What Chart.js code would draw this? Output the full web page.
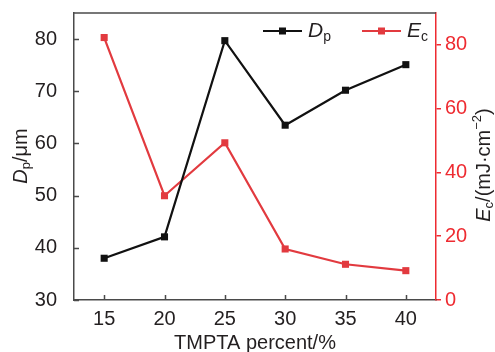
<!DOCTYPE html>
<html>
<head>
<meta charset="utf-8">
<script src="https://cdn.jsdelivr.net/npm/chart.js@4/dist/chart.umd.min.js"></script>
<style>
  html, body { margin: 0; padding: 0; background: #fff; }
  #wrap { width: 495px; height: 352px; }
</style>
</head>
<body>
<div id="wrap"><canvas id="graph" width="495" height="352"></canvas></div>
<script>
const categories = ["15", "20", "25", "30", "35", "40"];
const dpValues = [38.0, 42.1, 79.7, 63.5, 70.2, 75.1];
const ecValues = [82.3, 32.7, 49.3, 16.0, 11.2, 9.2];
const leftTicks = [30, 40, 50, 60, 70, 80];
const rightTicks = [0, 20, 40, 60, 80];

const BLACK = "#111111";
const RED = "#e23a3f";
const AXIS_RED = "#ee2b31";
const TEXT = "#231f20";
const AXIS = "#4a4a4a";
const FONT = "'Liberation Sans', Arial, sans-serif";

// draws "D_p"-style text pieces in a row; returns width
function pieces(ctx, parts, x, y, measureOnly) {
  let w = 0;
  parts.forEach(p => {
    ctx.font = (p.italic ? "italic " : "") + p.size + "px " + FONT;
    const pw = ctx.measureText(p.t).width;
    if (!measureOnly) ctx.fillText(p.t, x + w, y + (p.dy || 0));
    w += pw;
  });
  return w;
}

function noPad(s) {
  s.paddingTop = 0;
  s.paddingBottom = 0;
}

const extras = {
  id: "extras",
  afterDraw(chart) {
    const ctx = chart.ctx;
    const a = chart.chartArea;
    const x = chart.scales.x, yl = chart.scales.y;
    ctx.save();
    // frame: top line
    ctx.strokeStyle = AXIS;
    ctx.lineWidth = 1.5;
    ctx.beginPath();
    ctx.moveTo(a.left, a.top);
    ctx.lineTo(a.right, a.top);
    ctx.stroke();
    // inward ticks on left and bottom
    ctx.beginPath();
    yl.ticks.forEach((t, i) => {
      const py = Math.round(yl.getPixelForTick(i)) + 0.5;
      ctx.moveTo(a.left, py);
      ctx.lineTo(a.left + 5, py);
    });
    x.ticks.forEach((t, i) => {
      const px = Math.round(x.getPixelForTick(i)) + 0.5;
      ctx.moveTo(px, a.bottom);
      ctx.lineTo(px, a.bottom - 5);
    });
    ctx.stroke();

    ctx.fillStyle = TEXT;
    ctx.textBaseline = "middle";
    ctx.textAlign = "left";

    // left axis title
    const lp = [
      { t: "D", italic: true, size: 20 },
      { t: "p", size: 13, dy: 5 },
      { t: "/\u03bcm", size: 20 }
    ];
    ctx.save();
    ctx.translate(21, 156);
    ctx.rotate(-Math.PI / 2);
    const lw = pieces(ctx, lp, 0, 0, true);
    pieces(ctx, lp, -lw / 2, 0);
    ctx.restore();

    // right axis title
    const rp = [
      { t: "E", italic: true, size: 20 },
      { t: "c", size: 13, dy: 5 },
      { t: "/(mJ\u00b7cm", size: 20 },
      { t: "\u22122", size: 13, dy: -7 },
      { t: ")", size: 20 }
    ];
    ctx.save();
    ctx.translate(484, 165);
    ctx.rotate(-Math.PI / 2);
    const rw = pieces(ctx, rp, 0, 0, true);
    pieces(ctx, rp, -rw / 2, 0);
    ctx.restore();

    // legend
    const items = [
      { x0: 263, color: BLACK, parts: [{ t: "D", italic: true, size: 21 }, { t: "p", size: 14, dy: 6 }] },
      { x0: 362, color: RED, parts: [{ t: "E", italic: true, size: 21 }, { t: "c", size: 14, dy: 6 }] }
    ];
    const ly = 31;
    items.forEach(it => {
      ctx.strokeStyle = it.color;
      ctx.fillStyle = it.color;
      ctx.lineWidth = 2.2;
      ctx.beginPath();
      ctx.moveTo(it.x0, ly);
      ctx.lineTo(it.x0 + 39, ly);
      ctx.stroke();
      ctx.fillRect(it.x0 + 19.5 - 3.5, ly - 3.5, 7, 7);
      ctx.fillStyle = TEXT;
      pieces(ctx, it.parts, it.x0 + 45, ly);
    });
    ctx.restore();
  }
};

new Chart(document.getElementById("graph").getContext("2d"), {
  type: "line",
  data: {
    labels: categories,
    datasets: [
      {
        label: "Dp",
        data: dpValues,
        yAxisID: "y",
        borderColor: BLACK,
        backgroundColor: BLACK,
        borderWidth: 2.2,
        pointStyle: "rect",
        pointRadius: 5,
        pointBorderWidth: 0,
        tension: 0
      },
      {
        label: "Ec",
        data: ecValues,
        yAxisID: "y1",
        borderColor: RED,
        backgroundColor: RED,
        borderWidth: 2.2,
        pointStyle: "rect",
        pointRadius: 5,
        pointBorderWidth: 0,
        tension: 0
      }
    ]
  },
  options: {
    responsive: false,
    animation: false,
    layout: { padding: { top: 13, left: 0, right: 0, bottom: 0 } },
    plugins: { legend: { display: false }, tooltip: { enabled: false } },
    scales: {
      x: {
        type: "category",
        offset: true,
        afterFit: s => { s.height = 52; s.paddingLeft = 0; s.paddingRight = 0; },
        grid: { display: false, drawTicks: false },
        border: { display: true, color: AXIS, width: 1.5 },
        ticks: { color: TEXT, font: { family: FONT, size: 20 }, padding: 7, maxRotation: 0 },
        title: {
          display: true,
          text: "TMPTA percent/%",
          color: TEXT,
          font: { family: FONT, size: 20 },
          padding: { top: 0, bottom: -3 }
        }
      },
      y: {
        position: "left",
        min: 30,
        max: 85,
        afterFit: s => { s.width = 74; noPad(s); },
        afterBuildTicks: s => { s.ticks = leftTicks.map(v => ({ value: v })); },
        grid: { display: false },
        border: { display: true, color: AXIS, width: 1.5 },
        ticks: { color: TEXT, font: { family: FONT, size: 20 }, padding: 9 }
      },
      y1: {
        position: "right",
        min: 0,
        max: 90,
        afterFit: s => { s.width = 59; noPad(s); },
        afterBuildTicks: s => { s.ticks = rightTicks.map(v => ({ value: v })); },
        grid: { display: true, drawOnChartArea: false, drawTicks: true, tickLength: 5, color: AXIS_RED, lineWidth: 1.5 },
        border: { display: true, color: AXIS_RED, width: 1.5 },
        ticks: { color: AXIS_RED, font: { family: FONT, size: 20 }, padding: 4 }
      }
    }
  },
  plugins: [extras]
});
</script>
</body>
</html>
